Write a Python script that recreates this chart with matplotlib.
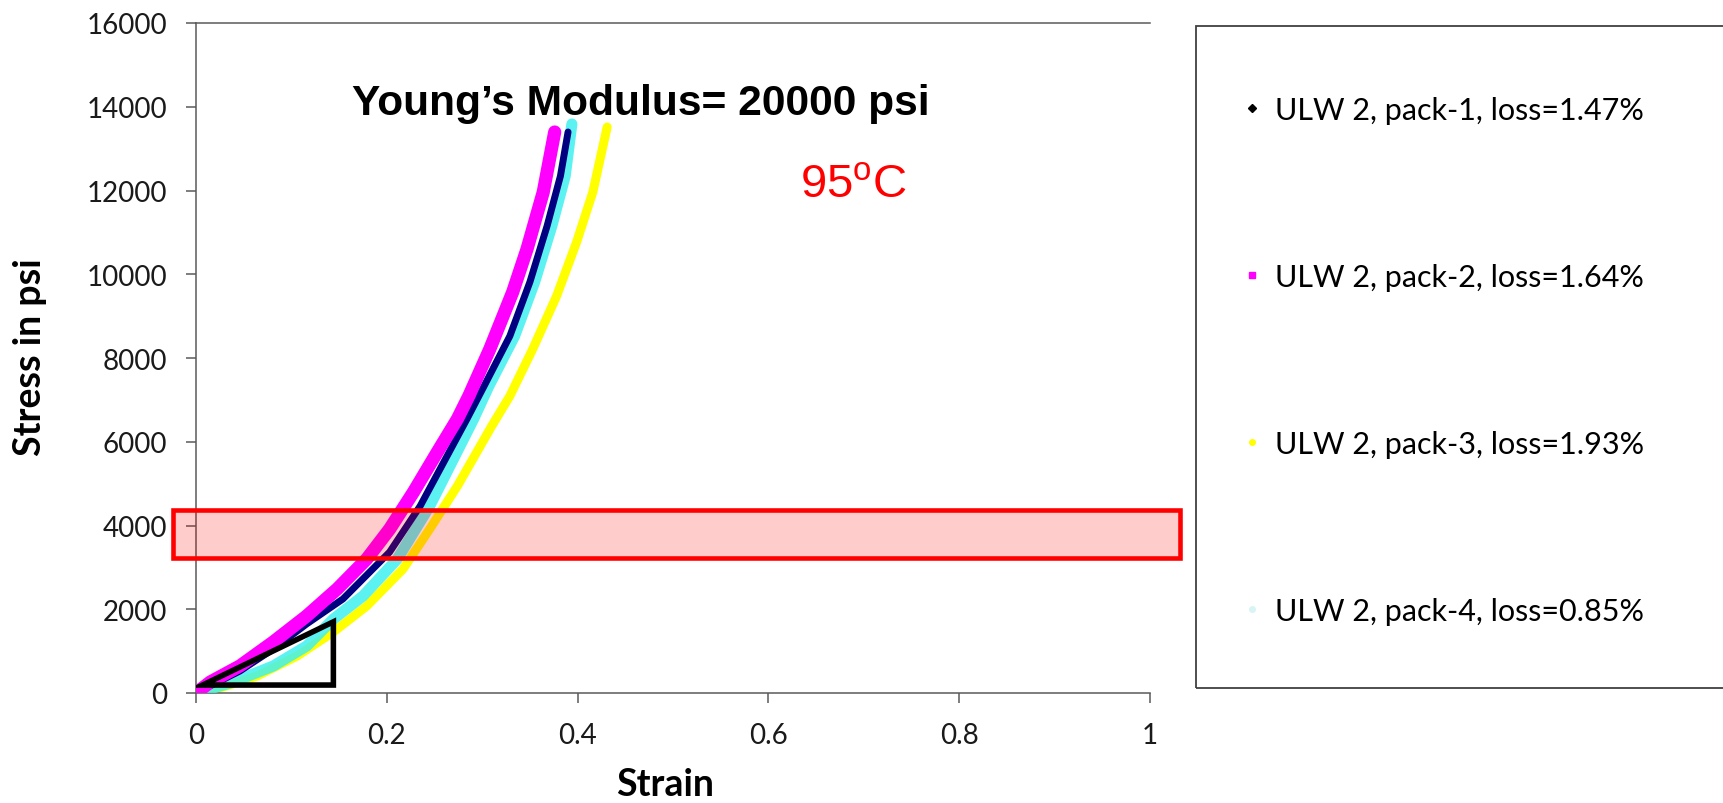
import matplotlib
matplotlib.use("Agg")
import matplotlib.pyplot as plt
from matplotlib.patches import Rectangle, Polygon
from matplotlib.lines import Line2D
import numpy as np

plt.rcParams['font.family'] = ['Lato', 'DejaVu Sans']
plt.rcParams['mathtext.fontset'] = 'custom'
plt.rcParams['mathtext.rm'] = 'Liberation Sans'

# (strain, stress in psi)
strain_p1 = [0.0, 0.004, 0.046, 0.081, 0.116, 0.154, 0.203, 0.235, 0.284, 0.302, 0.329, 0.350, 0.368, 0.382, 0.390]
stress_p1 = [0, 48, 525, 1050, 1650, 2245, 3367, 4466, 6543, 7331, 8525, 9815, 11152, 12346, 13397]

strain_p2 = [0.0, 0.015, 0.046, 0.081, 0.116, 0.148, 0.179, 0.203, 0.228, 0.253, 0.274, 0.286, 0.308, 0.332, 0.347, 0.364, 0.376]
stress_p2 = [0, 263, 645, 1218, 1839, 2484, 3200, 3916, 4800, 5755, 6543, 7092, 8215, 9576, 10603, 11964, 13397]

strain_p3 = [0.0, 0.022, 0.064, 0.106, 0.144, 0.179, 0.217, 0.245, 0.274, 0.310, 0.329, 0.353, 0.378, 0.399, 0.416, 0.431]
stress_p3 = [0, 96, 406, 884, 1457, 2078, 2961, 3916, 4943, 6376, 7092, 8215, 9480, 10770, 11964, 13516]

strain_p4 = [0.0, 0.004, 0.039, 0.081, 0.116, 0.144, 0.175, 0.211, 0.245, 0.291, 0.307, 0.334, 0.355, 0.373, 0.387, 0.394]
stress_p4 = [0, 24, 263, 645, 1122, 1767, 2316, 3200, 4466, 6543, 7331, 8525, 9815, 11152, 12346, 13588]

labels = ['ULW 2, pack-1, loss=1.47%', 'ULW 2, pack-2, loss=1.64%',
          'ULW 2, pack-3, loss=1.93%', 'ULW 2, pack-4, loss=0.85%']
colors = ['#000080', '#ff00ff', '#ffff00', '#40f0f0']

band_lo, band_hi = 3220, 4370
tri_x = [0.007, 0.144, 0.144]
tri_y = [190, 1700, 190]

fig = plt.figure(figsize=(17.23, 8.04), dpi=100)
ax = fig.add_axes([196/1723, 1-694/804, 954/1723, 670/804])

ax.plot(strain_p3, stress_p3, color=colors[2], lw=6.5, solid_capstyle='round', solid_joinstyle='round', zorder=2)
ax.plot(strain_p4, stress_p4, color=colors[3], lw=8, alpha=0.85, solid_capstyle='round', solid_joinstyle='round', zorder=3)
ax.plot(strain_p1, stress_p1, color=colors[0], lw=5, solid_capstyle='round', solid_joinstyle='round', zorder=4)
ax.plot(strain_p2, stress_p2, color=colors[1], lw=9.5, solid_capstyle='round', solid_joinstyle='round', zorder=5)

ax.add_patch(Rectangle((-0.024, band_lo), 1.055, band_hi - band_lo, facecolor=(1, 0, 0, 0.2),
                       edgecolor='red', lw=3.3, clip_on=False, zorder=6))
ax.add_patch(Polygon(list(zip(tri_x, tri_y)), closed=True, fill=False, edgecolor='black',
                     lw=4, joinstyle='miter', zorder=7))

ax.set_xlim(0, 1)
ax.set_ylim(0, 16000)
ax.set_xticks([0, 0.2, 0.4, 0.6, 0.8, 1])
ax.set_xticklabels(['0', '0.2', '0.4', '0.6', '0.8', '1'])
ax.set_yticks(np.arange(0, 16001, 2000))
ax.tick_params(direction='out', length=7, width=1.1, color='#5a5a5a', labelsize=20,
               labelcolor='#1a1a1a')
ax.tick_params(axis='y', pad=14)
ax.tick_params(axis='x', pad=14)
for s in ['left', 'bottom', 'top']:
    ax.spines[s].set_color('#5a5a5a')
    ax.spines[s].set_linewidth(1.1)
ax.spines['right'].set_visible(False)

ax.set_xlabel('Strain', fontsize=27, fontweight='bold', va='center')
ax.xaxis.set_label_coords((665-196)/954, (694-785)/670)
ax.set_ylabel('Stress in psi', fontsize=27, fontweight='bold', va='center')
ax.yaxis.set_label_coords((30-196)/954, (694-357)/670)

fig.text(352/1723, 1-115/804, 'Young\u2019s Modulus= 20000 psi', fontsize=30.6, fontweight='bold',
         family='Liberation Sans', ha='left', va='baseline')
fig.text(800/1723, 1-198/804, r'95$^{\mathrm{o}}$C', fontsize=34, color='red',
         family='Liberation Sans', ha='left', va='baseline')

# legend box (runs off the right edge)
fig.patches.append(Rectangle((1196/1723, 1-689/804), 0.35, 662/804, transform=fig.transFigure,
                             fill=False, edgecolor='#404040', lw=1.3))
handles = [Line2D([], [], ls='none', marker='D', ms=4, color='black'),
           Line2D([], [], ls='none', marker='s', ms=5, color=colors[1]),
           Line2D([], [], ls='none', marker='o', ms=4, color=colors[2]),
           Line2D([], [], ls='none', marker='o', ms=4, color='#d8f4f4')]
fig.legend(handles, labels, loc='upper left', bbox_to_anchor=(1243/1723, 1-97/804),
           frameon=False, fontsize=22, labelspacing=4.55, handlelength=0.6, handletextpad=0.45,
           borderpad=0, borderaxespad=0)

fig.savefig('out.png', dpi=100)
